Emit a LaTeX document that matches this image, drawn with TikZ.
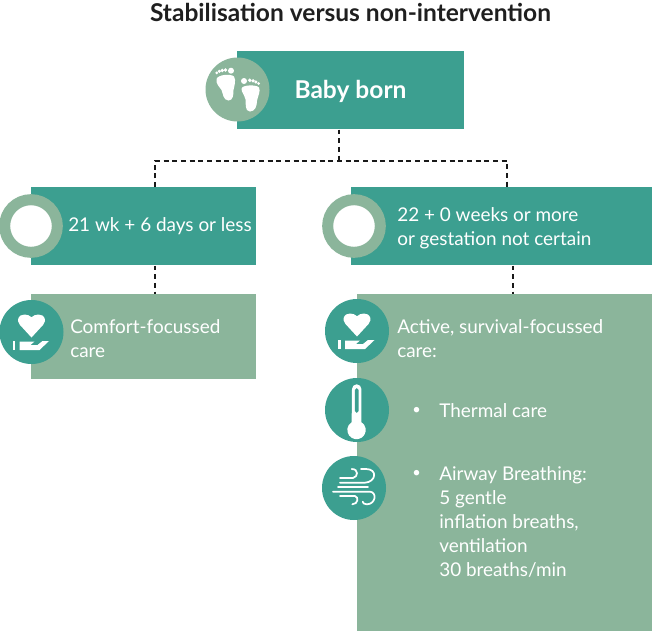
\documentclass[tikz,border=0pt]{standalone}
\usepackage{fontspec}
\setmainfont{Lato}
\definecolor{teal1}{HTML}{3C9F90}
\definecolor{sage}{HTML}{8BB59B}
\tikzset{
 x=0.75pt,y=-0.75pt,
 tealbox/.style={fill=teal1,draw=none,inner sep=0,anchor=north west},
 sagebox/.style={fill=sage,draw=none,inner sep=0,anchor=north west},
 badge/.style={circle,fill=teal1,draw=none,minimum size=48pt,inner sep=0},
 ring/.style={circle,fill=white,draw=sage,line width=8.25pt,minimum size=39.5pt,inner sep=0},
 link/.style={draw=black!90,line width=1.8pt,dash pattern=on 3.7pt off 2.8pt},
 label/.style={text=white,font=\fontsize{14.2pt}{18pt}\selectfont,align=left,anchor=west,inner sep=0},
 dot/.style={text=white,font=\fontsize{11pt}{12pt}\selectfont,anchor=center,inner sep=0},
 ico/.style={fill=white,draw=none},
 icoline/.style={draw=white,line width=1.3pt,line cap=round,fill=none},
}
\newcommand{\careicon}[2]{%
 \begin{scope}[shift={(#1,#2)}]
  \fill[ico] (0,5.5) -- (-11.5,-7) .. controls (-15.5,-11.5) and (-13.5,-17.5) .. (-7,-17.5) .. controls (-4,-17.5) and (-2,-16.5) .. (0,-14.8) .. controls (2,-16.5) and (4,-17.5) .. (7,-17.5) .. controls (13.5,-17.5) and (15.5,-11.5) .. (11.5,-7) -- cycle;
  \fill[ico] (-18.8,8.7) rectangle (-16.2,18);
  \fill[ico] (-12,9.5) -- (3,9.5) -- (-1,13) -- (6,13) -- (11,9) -- (17.5,9) -- (8,18) -- (-12,18) -- cycle;
 \end{scope}}
\begin{document}
\begin{tikzpicture}
\useasboundingbox (0,0) rectangle (652,632);
\node[tealbox,minimum width=170.25pt,minimum height=58.5pt] (baby) at (237,51) {};
\node[tealbox,minimum width=168.75pt,minimum height=58.5pt] (left) at (31,187) {};
\node[tealbox,minimum width=225.75pt,minimum height=58.5pt] (right) at (351,187) {};
\node[sagebox,minimum width=168.75pt,minimum height=63.75pt] (comfort) at (31,294) {};
\node[sagebox,minimum width=221.25pt,minimum height=252.75pt] (active) at (357,294) {};

\coordinate (jc) at (339,161);
\coordinate (jl) at (155,161);
\coordinate (jr) at (507,161);
\coordinate (dl) at (155,280);
\coordinate (dr) at (513,280);
\draw[link] (jc |- baby.south) -- (jc);
\draw[link] (jl |- left.north) -- (jl) -- (jr) -- (jr |- right.north);
\draw[link] (dl |- left.south) -- (dl |- comfort.north);
\draw[link] (dr |- right.south) -- (dr |- active.north);

\node[badge,fill=sage] (ibaby) at (237.5,89.5) {};
\node[ring] (ileft) at (31,226) {};
\node[ring] (iright) at (354,226) {};
\node[badge] (icomfort) at (31.5,332) {};
\node[badge] (iactive) at (357,331) {};
\node[badge] (itherm) at (357,410) {};
\node[badge] (iwind) at (354,488) {};

% feet
\fill[ico] (216.5,79) .. controls (218,74.5) and (231,73.5) .. (234,76.5) .. controls (236.5,80) and (234,87) .. (233.5,90) .. controls (233.5,95) and (233,100.5) .. (228.5,100.5) .. controls (223,100.5) and (223,93) .. (221.5,90) .. controls (219.5,87) and (215.5,83.5) .. (216.5,79) -- cycle;
\foreach \a/\b/\r in {216.7/72.8/1.5,219.3/71.3/1.7,222.2/70.5/1.8,225.4/70/1.9,231/70.7/3}
  \fill[ico] (\a,\b) circle[radius=\r];
\fill[ico] (241.5,89) .. controls (241.5,84.5) and (257,84.5) .. (259,87.5) .. controls (261,91) and (257.5,97) .. (257,101) .. controls (257,106) and (255,111.5) .. (250,111.5) .. controls (244.5,111.5) and (246,103) .. (245.5,99.5) .. controls (244.5,95) and (241.5,92) .. (241.5,89) -- cycle;
\foreach \a/\b/\r in {258.5/83.5/1.5,255.8/82/1.7,253/80.8/1.8,249.8/80.3/1.9,244/81/3}
  \fill[ico] (\a,\b) circle[radius=\r];

\careicon{31.5}{332}
\careicon{357}{331}

% thermometer
\fill[ico] (352,389) arc[start angle=180,end angle=360,radius=4.7] -- (361.4,422.2) arc[start angle=-58,end angle=238,radius=9.2] -- cycle;
\fill[teal1] (354.8,390) arc[start angle=180,end angle=360,radius=1.9] -- (358.6,411) arc[start angle=0,end angle=180,radius=1.9] -- cycle;

% wind
\draw[icoline] (340,478) -- (353,478) .. controls (358,477) and (359,469) .. (351.7,469);
\draw[icoline] (340,482.7) -- (365,482.7) .. controls (376,482) and (378,469) .. (366,469) -- (361,469);
\draw[icoline] (338,487.3) -- (368,487.3);
\draw[icoline] (333,491.7) -- (370,491.7) .. controls (377,492) and (376,504.3) .. (366.7,504.3) .. controls (364,504.3) and (363,503) .. (362.7,501.7);
\draw[icoline] (340,496) -- (355,496) .. controls (359,497) and (358,504.3) .. (352.3,504.3);

\node[text=black!88,font=\bfseries\fontsize{18.4pt}{20pt}\selectfont,anchor=center,inner sep=0] (title) at (350.5,12.5) {Stabilisation versus non-intervention};
\node[text=white,font=\bfseries\fontsize{18.4pt}{20pt}\selectfont,anchor=center,inner sep=0] (tbaby) at (350.5,91) {Baby born};
\node[label] (tleft) at (68,226.5) {21 wk + 6 days or less};
\node[label] (tright) at (397,228) {22 + 0 weeks or more\\or gestation not certain};
\node[label] (tcomfort) at (70,338.5) {Comfort-focussed\\care};
\node[label] (tactive) at (397,338.5) {Active, survival-focussed\\care:};
\node[dot] (b1) at (416.5,411) {•};
\node[label] (t1) at (439,411) {Thermal care};
\node[dot] (b2) at (416.5,474) {•};
\node[label,anchor=north west] (t2) at (439,466) {Airway Breathing:\\5 gentle\\inflation breaths,\\ventilation\\30 breaths/min};
\end{tikzpicture}
\end{document}
